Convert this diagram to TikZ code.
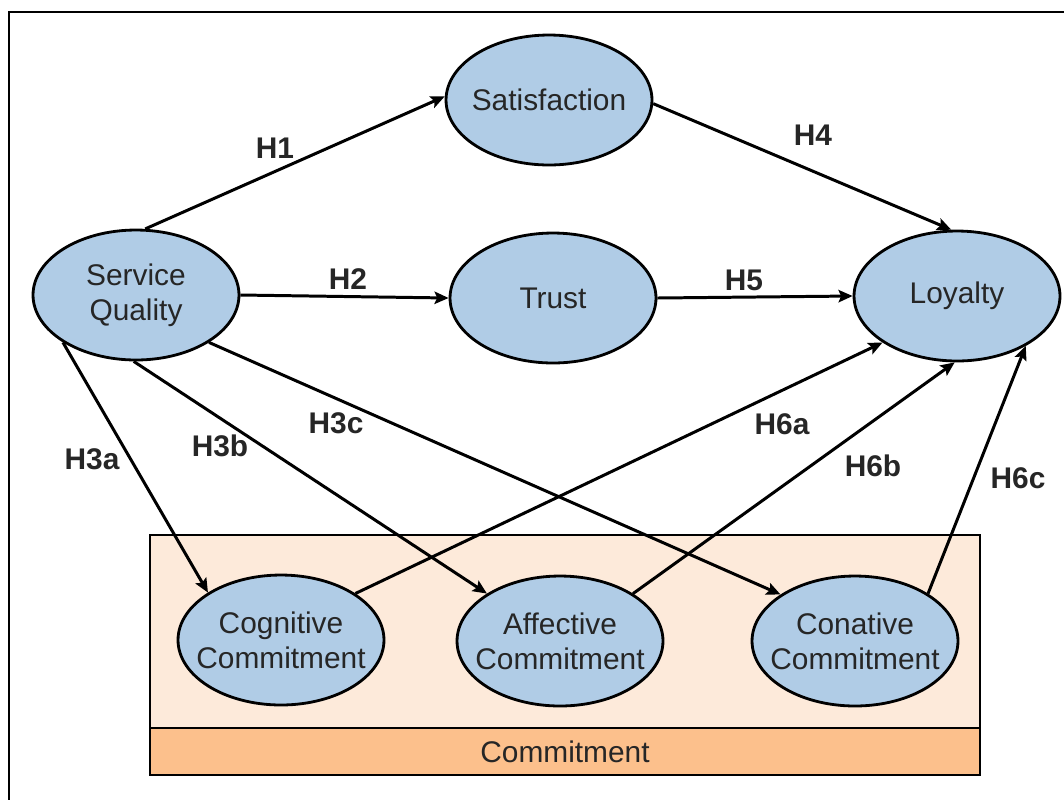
\documentclass[tikz,border=0pt]{standalone}
\usepackage{fontspec}
\setmainfont{Liberation Sans}
\usepackage{xcolor}
\usepackage{tikz}
\usetikzlibrary{arrows.meta,positioning,shapes.geometric}

\definecolor{construct}{RGB}{176,204,230}
\definecolor{commitbg}{RGB}{253,234,218}
\definecolor{commitbar}{RGB}{252,192,140}
\definecolor{inktext}{RGB}{38,38,38}

\tikzset{
  construct/.style={ellipse,draw=black,line width=1.6pt,fill=construct,
    minimum width=4.12cm,minimum height=2.6cm,inner xsep=-0.3cm,inner ysep=0pt,
    align=center,text=inktext,font=\fontsize{17}{20}\selectfont},
  hyp/.style={font=\bfseries\fontsize{17}{20}\selectfont,text=inktext,inner sep=0pt},
  path/.style={-{Stealth[length=8pt,width=7pt,inset=1.5pt]},line width=1.7pt}
}

\begin{document}
\begin{tikzpicture}[x=0.02cm,y=-0.02cm]
\useasboundingbox (0,0) rectangle (1064,799);
% outer frame, cut by the page on the right and at the bottom
\draw[line width=1.1pt] (1070,12) -- (9,12) -- (9,805);

% commitment block
\draw[line width=1.6pt,fill=commitbg] (150,535) rectangle (980,728);
\draw[line width=1.6pt,fill=commitbar] (150,728) rectangle (980,775);
\node[text=inktext,font=\fontsize{17}{20}\selectfont] (commit) at (565,752) {Commitment};

% constructs
\node[construct] (sq)   at (136,295) {Service\\Quality};
\node[construct] (sat)  at (549,100) {Satisfaction};
\node[construct] (tru)  at (553,298) {Trust};
\node[construct] (loy)  at (957,296) {Loyalty};
\node[construct] (cog)  at (281,640) {Cognitive\\Commitment};
\node[construct] (aff)  at (560,641) {Affective\\Commitment};
\node[construct] (con)  at (855,641) {Conative\\Commitment};

% hypotheses
\path[path] (sq.82) edge (sat.178);
\path[path] (sq.east) edge (tru.west);
\path[path] (sat.-2) edge (loy.95);
\path[path] (tru.east) edge (loy.west);
\path[path] (sq.213) edge (cog.147);
\path[path] (sq.268) edge (aff.147);
\path[path] (sq.-33) edge (con.148);
\path[path] (cog.32) edge (loy.212);
\path[path] (aff.33) edge (loy.268);
\path[path] (con.33) edge (loy.-36);

\node[hyp] (h1)  at (275,148) {H1};
\node[hyp] (h2)  at (348,279) {H2};
\node[hyp] (h4)  at (813,135) {H4};
\node[hyp] (h5)  at (744,280) {H5};
\node[hyp] (h3a) at (92,459)  {H3a};
\node[hyp] (h3b) at (220,446) {H3b};
\node[hyp] (h3c) at (336,423) {H3c};
\node[hyp] (h6a) at (782,424) {H6a};
\node[hyp] (h6b) at (873,466) {H6b};
\node[hyp] (h6c) at (1018,478) {H6c};
\end{tikzpicture}
\end{document}
